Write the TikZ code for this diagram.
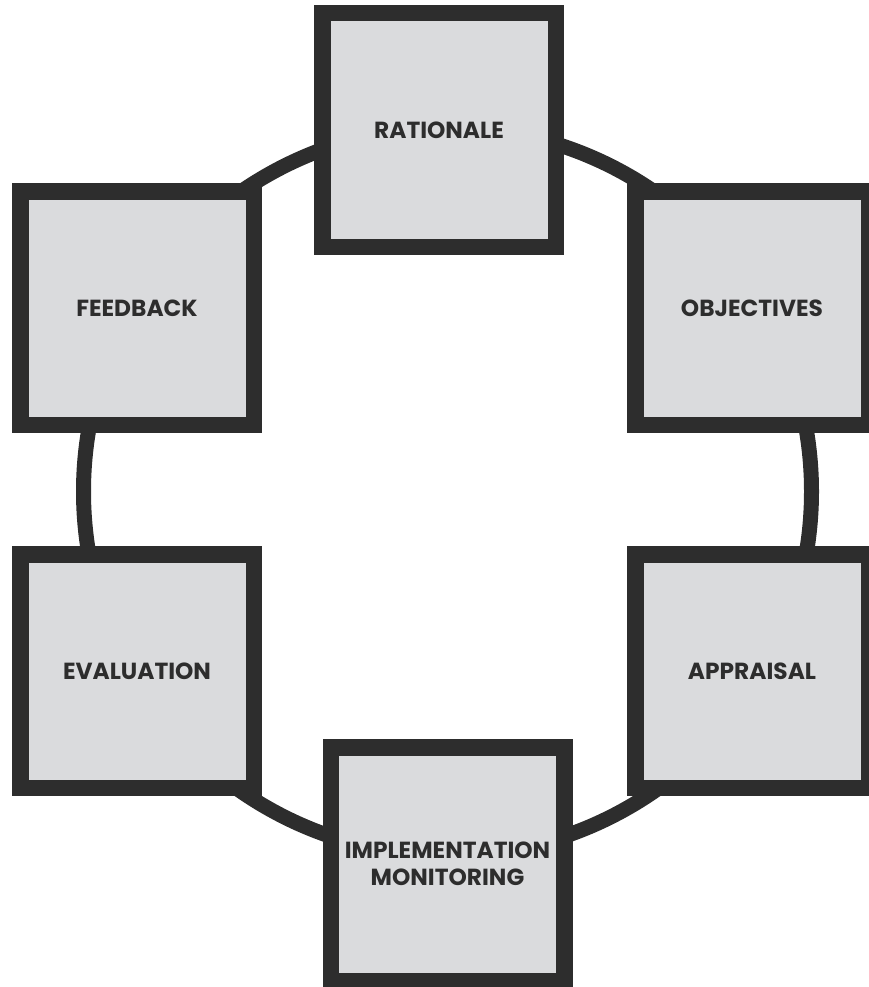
\documentclass[tikz,border=0pt]{standalone}
\usepackage{fontspec}
\setmainfont{Poppins}
\definecolor{dk}{HTML}{2D2D2D}
\definecolor{lt}{HTML}{DADBDD}
\begin{document}
\begin{tikzpicture}[x=1pt,y=-1pt,
  stage/.style={draw=dk, fill=lt, line width=16.5pt, minimum width=233.5pt,
    minimum height=233.5pt, inner sep=0pt, text=dk, align=center,
    font=\bfseries\fontsize{23.3}{27}\selectfont},
  ring/.style={draw=dk, line width=15pt}]
\useasboundingbox (0,0) rectangle (869,987);
\clip (0,0) rectangle (869,987);
\coordinate (c) at (447.5,491.5);
\draw[ring] (c) circle [radius=364];
\node[stage] (rat) at (439,130) {RATIONALE};
\node[stage] (obj) at (752,308) {OBJECTIVES};
\node[stage] (app) at (752,671) {APPRAISAL};
\node[stage] (imp) at (447.5,864) {IMPLEMENTATION\\MONITORING};
\node[stage] (eva) at (137,671) {EVALUATION};
\node[stage] (fee) at (137,308) {FEEDBACK};
\end{tikzpicture}
\end{document}
